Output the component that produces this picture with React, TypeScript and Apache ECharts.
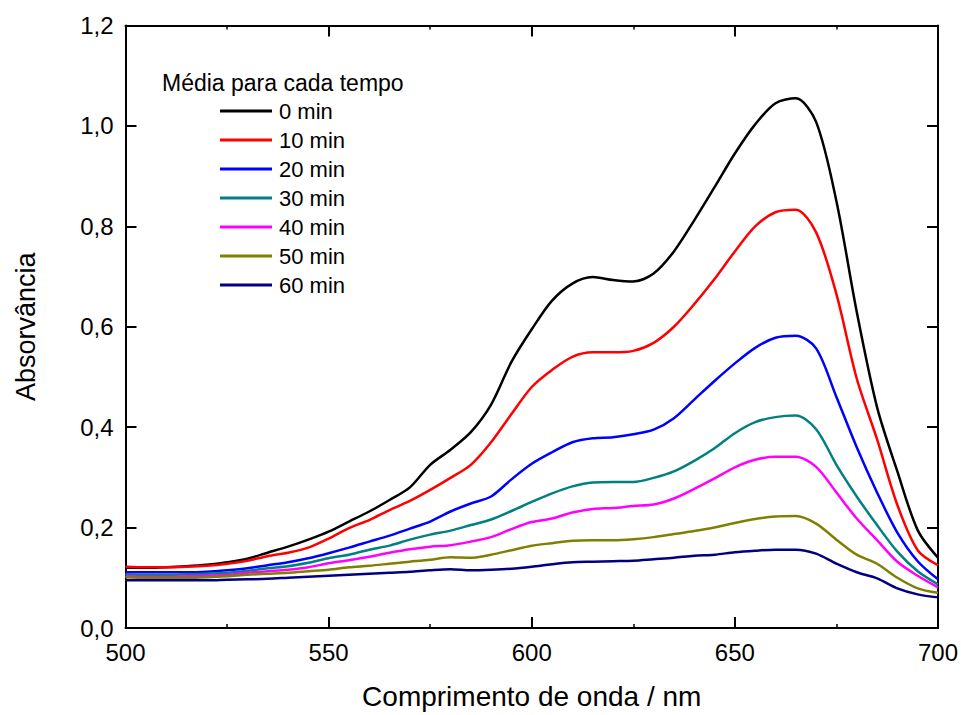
import React, { useEffect, useRef } from "react";
import * as echarts from "echarts";

// Wavelength grid (nm)
const wavelengths = [
  500, 505, 510, 515, 520, 525, 530, 535, 540, 545, 550, 555, 560, 565, 570, 575, 580, 585, 590, 595,
  600, 605, 610, 615, 620, 625, 630, 635, 640, 645, 650, 655, 660, 665, 670, 675, 680, 685, 690, 695, 700,
];

// Mean absorbance spectra for each irradiation time
const abs0 = [
  0.120, 0.120, 0.121, 0.123, 0.126, 0.131, 0.138, 0.150, 0.162, 0.176, 0.192, 0.212, 0.232, 0.255, 0.280, 0.325, 0.355, 0.390, 0.445, 0.530,
  0.595, 0.652, 0.686, 0.699, 0.693, 0.690, 0.706, 0.750, 0.812, 0.878, 0.945, 1.003, 1.045, 1.055, 1.008, 0.850, 0.630, 0.440, 0.312, 0.195, 0.140,
];
const abs10 = [
  0.122, 0.121, 0.121, 0.122, 0.124, 0.128, 0.134, 0.143, 0.150, 0.160, 0.178, 0.199, 0.215, 0.235, 0.253, 0.275, 0.299, 0.325, 0.370, 0.426,
  0.480, 0.514, 0.540, 0.549, 0.549, 0.552, 0.568, 0.600, 0.645, 0.695, 0.750, 0.800, 0.828, 0.833, 0.788, 0.665, 0.497, 0.376, 0.245, 0.155, 0.125,
];
const abs20 = [
  0.111, 0.111, 0.111, 0.111, 0.112, 0.115, 0.119, 0.125, 0.131, 0.139, 0.149, 0.160, 0.172, 0.184, 0.198, 0.212, 0.232, 0.248, 0.262, 0.296,
  0.327, 0.350, 0.370, 0.378, 0.380, 0.386, 0.395, 0.418, 0.455, 0.492, 0.527, 0.558, 0.578, 0.582, 0.557, 0.460, 0.360, 0.270, 0.190, 0.133, 0.097,
];
const abs30 = [
  0.107, 0.106, 0.106, 0.107, 0.108, 0.110, 0.114, 0.119, 0.123, 0.130, 0.139, 0.146, 0.156, 0.164, 0.176, 0.186, 0.194, 0.205, 0.216, 0.233,
  0.251, 0.268, 0.282, 0.290, 0.291, 0.291, 0.299, 0.312, 0.333, 0.358, 0.388, 0.410, 0.420, 0.423, 0.396, 0.325, 0.262, 0.205, 0.152, 0.113, 0.087,
];
const abs40 = [
  0.103, 0.102, 0.102, 0.103, 0.104, 0.106, 0.110, 0.113, 0.116, 0.121, 0.129, 0.135, 0.142, 0.150, 0.157, 0.162, 0.165, 0.172, 0.181, 0.197,
  0.211, 0.218, 0.230, 0.237, 0.239, 0.243, 0.246, 0.258, 0.277, 0.298, 0.320, 0.335, 0.341, 0.341, 0.321, 0.270, 0.218, 0.175, 0.132, 0.104, 0.081,
];
const abs50 = [
  0.101, 0.100, 0.100, 0.100, 0.101, 0.103, 0.106, 0.108, 0.110, 0.113, 0.116, 0.121, 0.124, 0.128, 0.132, 0.136, 0.141, 0.140, 0.146, 0.155,
  0.164, 0.169, 0.174, 0.175, 0.175, 0.177, 0.181, 0.187, 0.193, 0.200, 0.209, 0.217, 0.222, 0.223, 0.208, 0.176, 0.146, 0.128, 0.100, 0.079, 0.070,
];
const abs60 = [
  0.095, 0.095, 0.095, 0.095, 0.095, 0.096, 0.097, 0.098, 0.100, 0.102, 0.104, 0.106, 0.108, 0.110, 0.112, 0.115, 0.117, 0.115, 0.116, 0.118,
  0.122, 0.127, 0.131, 0.132, 0.133, 0.134, 0.137, 0.140, 0.144, 0.146, 0.151, 0.154, 0.156, 0.156, 0.148, 0.128, 0.111, 0.099, 0.079, 0.067, 0.061,
];

const seriesNames = ["0 min", "10 min", "20 min", "30 min", "40 min", "50 min", "60 min"];
const seriesValues = [abs0, abs10, abs20, abs30, abs40, abs50, abs60];
const seriesColors = ["#000000", "#ff0000", "#0000ff", "#008080", "#ff00ff", "#808000", "#000080"];

const legendTitle = "Média para cada tempo";
const xTitle = "Comprimento de onda / nm";
const yTitle = "Absorvância";

const FONT = "'Liberation Sans', Arial, Helvetica, sans-serif";

export default function App() {
  const ref = useRef<HTMLDivElement>(null);

  useEffect(() => {
    if (!ref.current) return;
    const chart = echarts.init(ref.current, undefined, { renderer: "svg" });

    const axisLine = { show: true, onZero: false, lineStyle: { color: "#000", width: 2 } };
    const tickInside = { show: true, inside: true, length: 11, lineStyle: { color: "#000", width: 2 } };
    const minorInside = { show: true, splitNumber: 2, length: 4, lineStyle: { color: "#000", width: 1.5 } };

    const option: echarts.EChartsOption = {
      animation: false,
      backgroundColor: "#ffffff",
      textStyle: { fontFamily: FONT },
      grid: { left: 125.5, right: 22, top: 25.5, bottom: 83, containLabel: false },
      legend: {
        data: seriesNames,
        orient: "vertical",
        left: 220,
        top: 100,
        padding: 0,
        itemGap: 7,
        itemWidth: 52,
        itemHeight: 3,
        icon: "rect",
        textStyle: { fontFamily: FONT, fontSize: 22, lineHeight: 20, color: "#000", padding: [0, 0, 0, 2] },
      },
      graphic: [
        {
          type: "text",
          left: 162,
          top: 71,
          style: { text: legendTitle, font: `23px ${FONT}`, fill: "#000" },
        },
      ],
      xAxis: [
        {
          type: "value",
          min: 500,
          max: 700,
          interval: 50,
          position: "bottom",
          name: xTitle,
          nameLocation: "middle",
          nameGap: 54,
          nameTextStyle: { fontFamily: FONT, fontSize: 28, color: "#000" },
          axisLine,
          axisTick: tickInside,
          minorTick: minorInside,
          splitLine: { show: false },
          axisLabel: { fontFamily: FONT, fontSize: 24, color: "#000", margin: 12 },
        },
        {
          type: "value",
          min: 500,
          max: 700,
          interval: 50,
          position: "top",
          axisLine,
          axisTick: tickInside,
          minorTick: minorInside,
          splitLine: { show: false },
          axisLabel: { show: false },
        },
      ],
      yAxis: [
        {
          type: "value",
          min: 0,
          max: 1.2,
          interval: 0.2,
          position: "left",
          name: yTitle,
          nameLocation: "middle",
          nameGap: 86,
          nameTextStyle: { fontFamily: FONT, fontSize: 27, color: "#000" },
          axisLine,
          axisTick: tickInside,
          splitLine: { show: false },
          axisLabel: {
            fontFamily: FONT,
            fontSize: 24,
            color: "#000",
            margin: 12,
            formatter: (v: number) => v.toFixed(1).replace(".", ","),
          },
        },
        {
          type: "value",
          min: 0,
          max: 1.2,
          interval: 0.2,
          position: "right",
          axisLine,
          axisTick: tickInside,
          splitLine: { show: false },
          axisLabel: { show: false },
        },
      ],
      series: seriesNames.map((name, i) => ({
        name,
        type: "line",
        xAxisIndex: 0,
        yAxisIndex: 0,
        showSymbol: false,
        smooth: 0.3,
        data: wavelengths.map((w, j) => [w, seriesValues[i][j]]),
        lineStyle: { color: seriesColors[i], width: 2.5 },
        itemStyle: { color: seriesColors[i] },
      })),
    };

    chart.setOption(option);
    return () => chart.dispose();
  }, []);

  return (
    <div
      ref={ref}
      style={{ position: "absolute", left: 0, top: 0, width: 961, height: 715, background: "#fff" }}
    />
  );
}
